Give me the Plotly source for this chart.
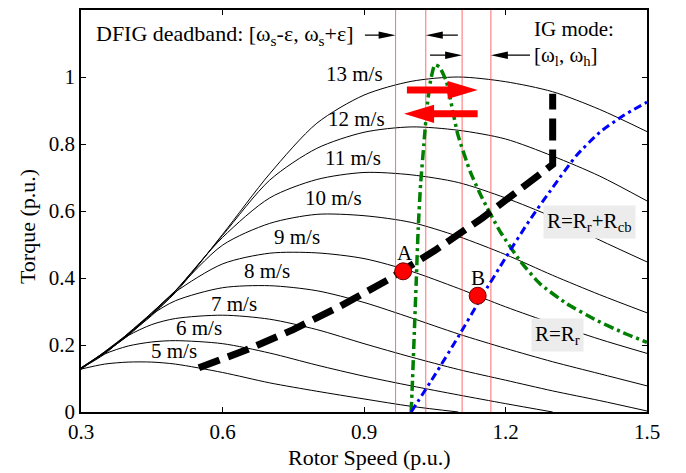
import plotly.graph_objects as go

# ---- Turbine torque-speed characteristics (p.u.) ----
speed_grid = [0.30, 0.35, 0.40, 0.45, 0.50, 0.60, 0.70, 0.80, 0.90, 1.00,
              1.10, 1.20, 1.30, 1.40, 1.50]

wind_speeds = ["13 m/s", "12 m/s", "11 m/s", "10 m/s", "9 m/s",
               "8 m/s", "7 m/s", "6 m/s", "5 m/s"]

torque_13 = [0.130, 0.177, 0.233, 0.292, 0.356, 0.530, 0.711, 0.862, 0.946, 0.987,
             1.000, 0.986, 0.956, 0.903, 0.837]
torque_12 = [0.129, 0.178, 0.232, 0.288, 0.360, 0.527, 0.692, 0.787, 0.835, 0.851,
             0.841, 0.815, 0.764, 0.704, 0.630]
torque_11 = [0.130, 0.178, 0.228, 0.292, 0.362, 0.521, 0.639, 0.694, 0.715, 0.708,
             0.685, 0.639, 0.582, 0.513, 0.448]
torque_10 = [0.131, 0.176, 0.230, 0.296, 0.362, 0.498, 0.563, 0.590, 0.586, 0.566,
             0.524, 0.470, 0.408, 0.350, 0.296]
torque_9 = [0.130, 0.173, 0.235, 0.296, 0.358, 0.442, 0.474, 0.475, 0.458, 0.420,
            0.369, 0.314, 0.264, 0.217, 0.175]
torque_8 = [0.127, 0.180, 0.234, 0.291, 0.332, 0.371, 0.377, 0.362, 0.327, 0.281,
            0.233, 0.190, 0.150, 0.114, 0.078]
torque_7 = [0.132, 0.179, 0.228, 0.261, 0.279, 0.289, 0.277, 0.246, 0.204, 0.164,
            0.127, 0.095, 0.063, 0.034, 0.003]
torque_6 = [0.132, 0.173, 0.197, 0.209, 0.213, 0.204, 0.176, 0.140, 0.107, 0.078,
            0.051, 0.025, 0.000, None, None]
torque_5 = [0.128, 0.143, 0.149, 0.149, 0.143, 0.118, 0.087, 0.062, 0.039, 0.017,
            0.000, None, None, None, None]

# label anchor (speed, torque) for each wind-speed curve
label_speed = [0.879, 0.885, 0.877, 0.836, 0.758, 0.694, 0.625, 0.550, 0.497]
label_torque = [1.009, 0.875, 0.757, 0.638, 0.522, 0.421, 0.323, 0.252, 0.181]

# ---- Optimal (MPPT) torque trajectory ----
mppt_speed = [0.55, 0.65, 0.75, 0.85, 0.95, 1.05, 1.15, 1.25, 1.30, 1.30]
mppt_torque = [0.132, 0.185, 0.246, 0.316, 0.394, 0.482, 0.578, 0.683, 0.739, 0.95]

# ---- Induction generator curve, R = Rr ----
ig_speed = [1.000, 1.003, 1.007, 1.011, 1.015, 1.020, 1.027, 1.033, 1.040, 1.050,
            1.060, 1.075, 1.088, 1.099, 1.125, 1.150, 1.188, 1.231, 1.273, 1.330,
            1.394, 1.449, 1.500]
ig_torque = [0.000, 0.100, 0.250, 0.400, 0.550, 0.680, 0.800, 0.900, 0.980, 1.036,
             1.030, 0.985, 0.900, 0.828, 0.718, 0.640, 0.540, 0.451, 0.383, 0.323,
             0.273, 0.237, 0.208]

# ---- Induction generator curve, R = Rr + Rcb ----
igcb_speed = [1.00, 1.05, 1.10, 1.15, 1.20, 1.25, 1.30, 1.35, 1.40, 1.45, 1.50]
igcb_torque = [0.000, 0.110, 0.225, 0.345, 0.460, 0.570, 0.670, 0.765, 0.835, 0.885, 0.925]

# ---- Speed bounds: deadband [ws-e, ws+e] and IG mode [wl, wh] ----
bound_speeds = [0.967, 1.031, 1.108, 1.169]

# ---- Operating points ----
point_names = ["A", "B"]
point_speed = [0.983, 1.141]
point_torque = [0.420, 0.347]

SERIF = "Liberation Serif"

fig = go.Figure()

wind_torques = [torque_13, torque_12, torque_11, torque_10, torque_9,
                torque_8, torque_7, torque_6, torque_5]
for name, tq in zip(wind_speeds, wind_torques):
    fig.add_trace(go.Scatter(x=speed_grid, y=tq, mode="lines", name=name,
                             line=dict(color="black", width=1, shape="spline", smoothing=0.8),
                             connectgaps=False, hoverinfo="skip"))

for xb in bound_speeds:
    fig.add_trace(go.Scatter(x=[xb, xb], y=[0, 1.2], mode="lines",
                             line=dict(color="rgba(255,60,60,0.75)", width=1),
                             hoverinfo="skip"))

fig.add_trace(go.Scatter(x=ig_speed, y=ig_torque, mode="lines",
                         line=dict(color="#008000", width=3.5, dash="10px,4px,3px,4px",
                                   shape="spline", smoothing=0.5),
                         hoverinfo="skip"))
fig.add_trace(go.Scatter(x=igcb_speed, y=igcb_torque, mode="lines",
                         line=dict(color="#0000ff", width=3, dash="8px,4px,3px,4px",
                                   shape="spline", smoothing=0.6),
                         hoverinfo="skip"))
fig.add_trace(go.Scatter(x=mppt_speed, y=mppt_torque, mode="lines",
                         line=dict(color="black", width=7, dash="22px,9px"),
                         hoverinfo="skip"))
fig.add_trace(go.Scatter(x=point_speed, y=point_torque, mode="markers",
                         marker=dict(size=17, color="#ff0000",
                                     line=dict(color="#700000", width=1)),
                         hoverinfo="skip"))


def arrow_path(x_tail, x_tip, y, shaft_half, head_len, head_half):
    d = 1 if x_tip > x_tail else -1
    xb = x_tip - d * head_len
    return (f"M{x_tail},{y - shaft_half} L{xb},{y - shaft_half} L{xb},{y - head_half} "
            f"L{x_tip},{y} L{xb},{y + head_half} L{xb},{y + shaft_half} "
            f"L{x_tail},{y + shaft_half} Z")


shapes = []
# thick red direction arrows
shapes.append(dict(type="path", xref="x", yref="y",
                   path=arrow_path(0.991, 1.141, 0.961, 0.0104, 0.0636, 0.027),
                   fillcolor="#ff0000", line=dict(width=0)))
shapes.append(dict(type="path", xref="x", yref="y",
                   path=arrow_path(1.141, 0.985, 0.890, 0.0104, 0.0636, 0.027),
                   fillcolor="#ff0000", line=dict(width=0)))
# thin black range arrows
for tail, tip, yy in [(0.902, bound_speeds[0], 1.125), (1.099, bound_speeds[1], 1.125),
                      (1.040, bound_speeds[2], 1.065), (1.252, bound_speeds[3], 1.065)]:
    shapes.append(dict(type="path", xref="x", yref="y",
                       path=arrow_path(tail, tip, yy, 0.0018, 0.036, 0.011),
                       fillcolor="black", line=dict(width=0)))

annotations = []
for txt, xs, ys in zip(wind_speeds, label_speed, label_torque):
    annotations.append(dict(x=xs, y=ys, xref="x", yref="y", text=txt, showarrow=False,
                            font=dict(family=SERIF, size=21, color="black")))
for txt, xs, ys in zip(point_names, [0.987, 1.142], [0.475, 0.400]):
    annotations.append(dict(x=xs, y=ys, xref="x", yref="y", text=txt, showarrow=False,
                            font=dict(family=SERIF, size=21, color="black")))

annotations += [
    dict(x=0.328, y=1.125, xref="x", yref="y", xanchor="left", yanchor="middle",
         text="DFIG deadband: [ω<sub>s</sub>-ε, ω<sub>s</sub>+ε]", showarrow=False,
         font=dict(family=SERIF, size=22, color="black")),
    dict(x=1.256, y=1.142, xref="x", yref="y", xanchor="left", yanchor="middle",
         text="IG mode:", showarrow=False,
         font=dict(family=SERIF, size=21, color="black")),
    dict(x=1.256, y=1.062, xref="x", yref="y", xanchor="left", yanchor="middle",
         text="[ω<sub>l</sub>, ω<sub>h</sub>]", showarrow=False,
         font=dict(family=SERIF, size=21, color="black")),
    dict(x=1.379, y=0.567, xref="x", yref="y", text="R=R<sub>r</sub>+R<sub>cb</sub>",
         showarrow=False, bgcolor="#ececec", borderpad=3,
         font=dict(family=SERIF, size=21, color="black")),
    dict(x=1.311, y=0.231, xref="x", yref="y", text="R=R<sub>r</sub>",
         showarrow=False, bgcolor="#ececec", borderpad=3,
         font=dict(family=SERIF, size=21, color="black")),
    dict(x=0.509, y=-0.114, xref="paper", yref="paper", xanchor="center", yanchor="middle",
         text="Rotor Speed (p.u.)",
         showarrow=False, font=dict(family=SERIF, size=22, color="black")),
    dict(x=-0.0954, y=0.46, xref="paper", yref="paper", xanchor="center", yanchor="middle",
         text="Torque (p.u.)",
         textangle=-90, showarrow=False, font=dict(family=SERIF, size=22, color="black")),
]

axis_common = dict(showline=True, linecolor="black", linewidth=1.5, mirror="ticks",
                   ticks="inside", ticklen=5, tickwidth=1, tickcolor="black",
                   showgrid=False, zeroline=False,
                   tickfont=dict(family=SERIF, size=21, color="black"))

fig.update_layout(
    width=686, height=473,
    margin=dict(l=81, r=39, t=8, b=61),
    paper_bgcolor="white", plot_bgcolor="white",
    showlegend=False,
    font=dict(family=SERIF, size=21, color="black"),
    xaxis=dict(range=[0.3, 1.5], tickvals=[0.3, 0.6, 0.9, 1.2, 1.5],
               ticktext=["0.3", "0.6", "0.9", "1.2", "1.5"], **axis_common),
    yaxis=dict(range=[0, 1.2], tickvals=[0, 0.2, 0.4, 0.6, 0.8, 1.0],
               ticktext=["0", "0.2", "0.4", "0.6", "0.8", "1"], **axis_common),
    shapes=shapes,
    annotations=annotations,
)

fig.write_html("out.html")
